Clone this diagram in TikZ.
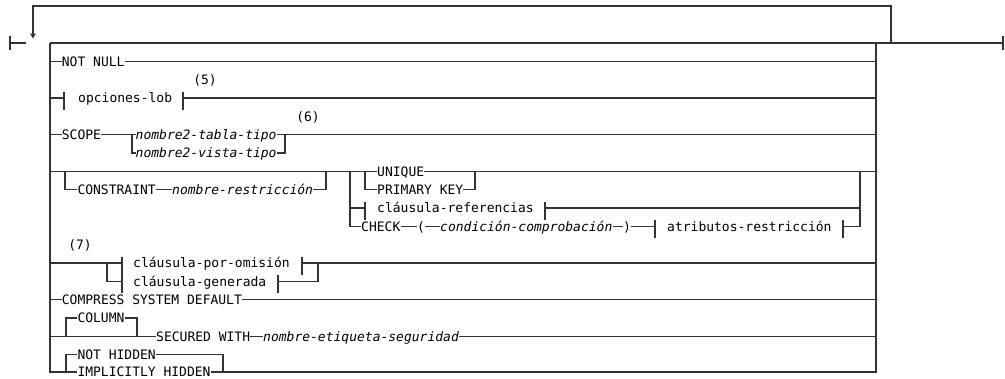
\documentclass[tikz,border=0pt]{standalone}
\usepackage{fontspec}
\newfontfamily\rmono{DejaVu Sans Mono}[ItalicFont={DejaVu Sans Mono Oblique}]
\usetikzlibrary{arrows.meta}
\newcommand\railtick[1]{\draw[rail] ([yshift=6pt]#1) -- ([yshift=-12pt]#1);}
\begin{document}
\begin{tikzpicture}[x=1pt,y=-1pt,
 rail/.style={draw=black!80,line width=1.25pt},
 kw/.style={font=\rmono\fontsize{13}{15}\selectfont,inner sep=0pt,text height=9.5pt,text depth=0pt,anchor=west,text=black},
 var/.style={kw,font=\rmono\itshape\fontsize{13}{15}\selectfont},
 note/.style={kw,anchor=center}]
\useasboundingbox (0,0) rectangle (1005,378);
% frame
\coordinate (lb) at (50,43);
\coordinate (rb) at (876,43);
\coordinate (st) at (10,43);
\coordinate (st2) at (26,43);
\coordinate (en) at (1003,43);
\coordinate (lpR) at (891,43);
\coordinate (lpL) at (33,6);
\coordinate (lpT) at (33,38.5);
\draw[rail] ([yshift=7pt]st) -- ([yshift=-7pt]st);
\draw[rail] (st) -- (st2);
\draw[rail] (lb) -- (en);
\draw[rail] ([yshift=7pt]en) -- ([yshift=-7pt]en);
\draw[rail,-{Triangle[length=5pt,width=5.5pt]}] (lpR) |- (lpL) -- (lpT);
% row 1
\node[kw] (nn) at (61.7,61.3) {NOT NULL};
\draw[rail] (nn.west -| lb) -- (nn.west);
\draw[rail] (nn.east) -- (nn.east -| rb);
% row 2
\node[note] (f5) at (205,80) {(5)};
\coordinate (t2a) at (64,98);
\node[kw] (ol) at (78,98) {opciones-lob};
\coordinate (t2b) at (183,98);
\draw[rail] (t2a -| lb) -- (t2a);
\railtick{t2a}
\railtick{t2b}
\draw[rail] (t2b) -- (t2b -| rb);
% row 3
\node[note] (f6) at (308,116.5) {(6)};
\node[kw] (sc) at (61.7,134.7) {SCOPE};
\coordinate (j3a) at (132,134.7);
\coordinate (j3b) at (285,134.7);
\node[var] (tt) at (135.5,134.7) {nombre2-tabla-tipo};
\node[var] (vt) at (135.5,153) {nombre2-vista-tipo};
\draw[rail] (sc.west -| lb) -- (sc.west);
\draw[rail] (sc.east) -- (tt.west);
\draw[rail] (tt.east) -- (tt.east -| rb);
\draw[rail] (j3a) |- (vt.west);
\draw[rail] (vt.east) -| (j3b);
% row 4
\coordinate (j4a) at (65,171.3);
\coordinate (j4b) at (326,171.3);
\coordinate (j4c) at (350,171.3);
\coordinate (j4d) at (365,171.3);
\coordinate (j4e) at (475,171.3);
\coordinate (j4f) at (860,171.3);
\node[kw] (cn) at (77.3,189.7) {CONSTRAINT};
\node[var] (nr) at (172,189.7) {nombre-restricción};
\node[kw] (uq) at (377,171.3) {UNIQUE};
\node[kw] (pk) at (377,189.7) {PRIMARY KEY};
\coordinate (t4a) at (365,208);
\node[kw] (cr) at (377,208) {cláusula-referencias};
\coordinate (t4b) at (545,208);
\node[kw] (ck) at (361,226.3) {CHECK};
\node[kw] (lp) at (417,226.3) {(};
\node[var] (cc) at (440,226.3) {condición-comprobación};
\node[kw] (rp) at (623,226.3) {)};
\coordinate (t4c) at (655,226.3);
\node[kw] (ar) at (667,226.3) {atributos-restricción};
\coordinate (t4d) at (843,226.3);
\draw[rail] (j4a -| lb) -- (uq.west);
\draw[rail] (uq.east) -- (uq.east -| rb);
\draw[rail] (j4a) |- (cn.west);
\draw[rail] (cn.east) -- (nr.west);
\draw[rail] (nr.east) -| (j4b);
\draw[rail] (j4d) |- (pk.west);
\draw[rail] (pk.east) -| (j4e);
\draw[rail] (j4c) |- (ck.west);
\draw[rail] (t4a -| j4c) -- (t4a);
\railtick{t4a}
\railtick{t4b}
\draw[rail] (t4b) -- (t4b -| j4f);
\draw[rail] (ck.east) -- (lp.west);
\draw[rail] (lp.east) -- (cc.west);
\draw[rail] (cc.east) -- (rp.west);
\draw[rail] (rp.east) -- (t4c);
\railtick{t4c}
\railtick{t4d}
\draw[rail] (t4d) -| (j4f);
% row 5
\node[note] (f7) at (80,244.7) {(7)};
\coordinate (j5a) at (107,263);
\coordinate (t5a) at (122,263);
\node[kw] (po) at (133,263) {cláusula-por-omisión};
\coordinate (t5b) at (302,263);
\coordinate (j5b) at (318,263);
\coordinate (t5c) at (122,281.3);
\node[kw] (cg) at (133,281.3) {cláusula-generada};
\coordinate (t5d) at (278,281.3);
\draw[rail] (t5a -| lb) -- (t5a);
\railtick{t5a}
\railtick{t5b}
\draw[rail] (t5b) -- (t5b -| rb);
\draw[rail] (j5a) |- (t5c);
\railtick{t5c}
\railtick{t5d}
\draw[rail] (t5d) -| (j5b);
% row 6
\node[kw] (cs) at (61.7,299.7) {COMPRESS SYSTEM DEFAULT};
\draw[rail] (cs.west -| lb) -- (cs.west);
\draw[rail] (cs.east) -- (cs.east -| rb);
% row 7
\coordinate (j7a) at (66,336.3);
\coordinate (j7b) at (137,336.3);
\node[kw] (co) at (77.3,318) {COLUMN};
\node[kw] (sw) at (156,336.3) {SECURED WITH};
\node[var] (ne) at (263,336.3) {nombre-etiqueta-seguridad};
\draw[rail] (sw.west -| lb) -- (sw.west);
\draw[rail] (sw.east) -- (ne.west);
\draw[rail] (ne.east) -- (ne.east -| rb);
\draw[rail] (j7a) |- (co.west);
\draw[rail] (co.east) -| (j7b);
% row 8
\coordinate (j8a) at (66,372);
\coordinate (j8b) at (223,372);
\node[kw] (nh) at (77.3,354.5) {NOT HIDDEN};
\node[kw] (ih) at (77.3,372) {IMPLICITLY HIDDEN};
\draw[rail] (lb) |- (ih.west);
\draw[rail] (rb) |- (ih.east);
\draw[rail] (j8a) |- (nh.west);
\draw[rail] (nh.east) -| (j8b);
\end{tikzpicture}
\end{document}
